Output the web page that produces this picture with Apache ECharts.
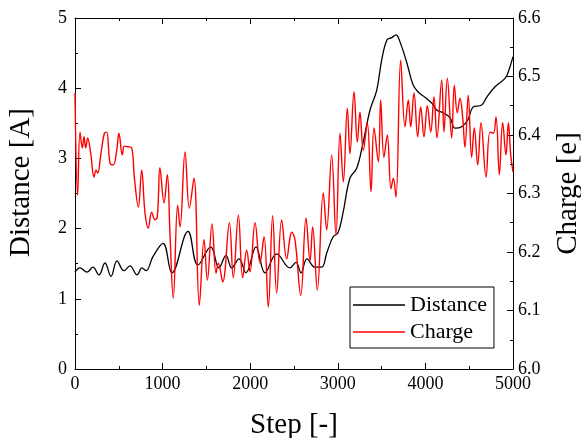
<!DOCTYPE html>
<html>
<head>
<meta charset="utf-8">
<script src="https://cdn.jsdelivr.net/npm/echarts@6/dist/echarts.min.js"></script>
<style>html,body{margin:0;padding:0;background:#fff;}#c{width:581px;height:438px;}</style>
</head>
<body>
<div id="c"></div>
<script>
// Distance (left axis) samples: step, value
const distSteps = [0,57,137,205,274,342,411,479,559,628,708,765,811,890,1005,1107,1290,1404,1549,1644,1724,1789,1872,1952,2066,2169,2302,2454,2523,2580,2648,2740,2816,2873,2945,3002,3059,3139,3216,3288,3368,3444,3501,3562,3615,3664,3710,3786,3859,3915,3995,4072,4129,4201,4281,4338,4414,4486,4543,4642,4699,4795,4909,4943,5000];
const distVals  = [1.38,1.44,1.38,1.45,1.34,1.51,1.32,1.54,1.40,1.47,1.34,1.44,1.40,1.60,1.79,1.37,1.96,1.48,1.74,1.44,1.62,1.44,1.57,1.37,1.74,1.37,1.64,1.44,1.52,1.37,1.57,1.45,1.45,1.65,1.88,1.94,2.22,2.72,2.86,3.22,3.69,3.97,4.40,4.69,4.72,4.76,4.66,4.37,4.05,3.95,3.87,3.79,3.69,3.65,3.58,3.43,3.45,3.55,3.73,3.76,3.87,4.02,4.14,4.22,4.45];

// Charge (right axis) samples: step, value
const chargeSteps = [0,30,57,84,103,122,145,179,217,240,259,297,335,362,400,438,476,502,540,563,601,647,677,723,761,799,837,875,913,940,970,1016,1054,1084,1122,1172,1199,1256,1305,1358,1419,1473,1511,1564,1610,1636,1686,1762,1807,1865,1914,1960,1998,2055,2112,2158,2207,2256,2302,2359,2416,2454,2473,2511,2577,2637,2683,2713,2766,2834,2873,2930,2979,3025,3063,3109,3139,3185,3223,3253,3291,3337,3379,3413,3463,3489,3527,3565,3607,3634,3664,3718,3767,3805,3832,3870,3912,3946,3984,4022,4061,4098,4132,4186,4212,4250,4300,4330,4364,4395,4425,4452,4489,4528,4558,4597,4635,4692,4737,4775,4806,4844,4882,4920,4947,4974,5000];
const chargeVals  = [6.472,6.297,6.405,6.378,6.397,6.378,6.395,6.369,6.328,6.340,6.335,6.369,6.403,6.405,6.352,6.349,6.374,6.403,6.366,6.381,6.380,6.378,6.328,6.277,6.340,6.267,6.241,6.268,6.255,6.260,6.344,6.284,6.332,6.232,6.121,6.280,6.243,6.371,6.275,6.326,6.109,6.221,6.152,6.248,6.164,6.181,6.149,6.250,6.156,6.263,6.156,6.203,6.166,6.250,6.181,6.226,6.106,6.262,6.130,6.255,6.188,6.224,6.234,6.221,6.126,6.258,6.185,6.243,6.135,6.301,6.238,6.366,6.229,6.403,6.320,6.446,6.368,6.474,6.388,6.439,6.374,6.421,6.303,6.412,6.354,6.460,6.362,6.400,6.308,6.326,6.294,6.528,6.414,6.460,6.414,6.472,6.397,6.448,6.397,6.450,6.405,6.465,6.395,6.494,6.405,6.497,6.395,6.485,6.438,6.463,6.431,6.379,6.468,6.362,6.412,6.349,6.421,6.328,6.405,6.403,6.431,6.332,6.421,6.366,6.421,6.366,6.337];

const xTicks = [0,1000,2000,3000,4000,5000];
const leftTicks = [0,1,2,3,4,5];
const rightTicks = [6.0,6.1,6.2,6.3,6.4,6.5,6.6];

const FONT = 'Liberation Serif';
const chart = echarts.init(document.getElementById('c'), null, {renderer:'canvas'});
const line = {show:true, onZero:false, lineStyle:{color:'#000', width:1}};
const tick = {show:true, inside:true, length:6, lineStyle:{color:'#000', width:1}};
const minor = {show:true, splitNumber:2, length:3, lineStyle:{color:'#000', width:1}};
const lbl = {color:'#000', fontFamily:FONT, fontSize:18};
const titleStyle = {color:'#000', fontFamily:FONT, fontSize:29};
const xMin = xTicks[0], xMax = xTicks[xTicks.length-1];
const lMin = leftTicks[0], lMax = leftTicks[leftTicks.length-1];
const rMin = rightTicks[0], rMax = rightTicks[rightTicks.length-1];

chart.setOption({
  animation:false,
  backgroundColor:'#fff',
  grid:{left:75, right:68, top:18, bottom:69, outerBoundsMode:'none', containLabel:false},
  legend:{
    orient:'vertical', left:350, top:287,
    borderColor:'#000', borderWidth:1, borderRadius:0,
    padding:[7,7,5,3], itemGap:5, itemWidth:52, itemHeight:1.5,
    textStyle:{color:'#000', fontFamily:FONT, fontSize:22, lineHeight:22},
    data:[{name:'Distance', icon:'rect'},{name:'Charge', icon:'rect'}]
  },
  xAxis:[{
    type:'value', min:xMin, max:xMax, interval:1000,
    name:'Step [-]', nameLocation:'middle', nameGap:42, nameTextStyle:titleStyle,
    axisLine:line, axisTick:tick, minorTick:minor,
    axisLabel:Object.assign({margin:6, formatter:v=>String(v)}, lbl),
    splitLine:{show:false}
  },{
    type:'value', position:'top', min:xMin, max:xMax, interval:1000,
    axisLine:line, axisTick:tick, minorTick:minor, axisLabel:{show:false}, splitLine:{show:false}
  }],
  yAxis:[{
    type:'value', position:'left', min:lMin, max:lMax, interval:1,
    name:'Distance [A]', nameLocation:'middle', nameGap:39,
    nameTextStyle:Object.assign({padding:[0,0,0,22]}, titleStyle),
    axisLine:line, axisTick:tick, minorTick:minor,
    axisLabel:Object.assign({margin:8}, lbl),
    splitLine:{show:false}
  },{
    type:'value', position:'right', min:rMin, max:rMax, interval:0.1,
    name:'Charge [e]', nameLocation:'middle', nameGap:41, nameTextStyle:titleStyle,
    axisLine:line, axisTick:tick, minorTick:minor,
    axisLabel:Object.assign({margin:5, formatter:v=>(+v).toFixed(1)}, lbl),
    splitLine:{show:false}
  }],
  series:[{
    name:'Distance', type:'line', xAxisIndex:0, yAxisIndex:0, symbol:'none', smooth:0.4,
    lineStyle:{color:'#000', width:1.3}, itemStyle:{color:'#000'},
    data:distSteps.map((s,i)=>[s,distVals[i]])
  },{
    name:'Charge', type:'line', xAxisIndex:0, yAxisIndex:1, symbol:'none', smooth:0.4,
    lineStyle:{color:'#ff0000', width:1.4}, itemStyle:{color:'#ff0000'},
    data:chargeSteps.map((s,i)=>[s,chargeVals[i]])
  }]
});
</script>
</body>
</html>
